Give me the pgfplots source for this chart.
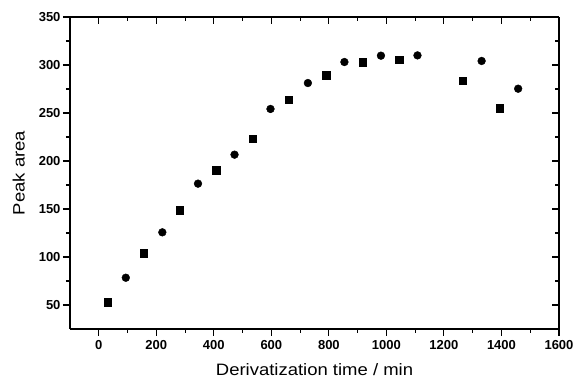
\documentclass[border=0pt]{standalone}
\usepackage{pgfplots}
\pgfplotsset{compat=1.18}
\usepackage{fontspec}
\setmainfont{Liberation Sans}
\newfontfamily\tickfont{Liberation Sans Bold}
\newfontfamily\labfont[FakeStretch=1.12]{Liberation Sans}
\begin{document}
\begin{tikzpicture}
\pgfplotsset{
  common/.style={
    scale only axis, width=489pt, height=312pt,
    xmin=-100, xmax=1600, ymin=25, ymax=350,
    xtick={0,200,...,1600}, ytick={50,100,...,350},
    minor x tick num=1, minor y tick num=1,
    major tick length=7pt, minor tick length=4pt,
    every tick/.style={black, line width=1.1pt},
    axis line style={line width=1.4pt},
  }
}
\begin{axis}[common,
  axis x line*=bottom, axis y line*=left,
  tick align=outside,
  ticklabel style={font=\tickfont\fontsize{13}{15}\selectfont},
  xticklabel style={yshift=-1pt},
  yticklabel style={xshift=1pt},
  /pgf/number format/assume math mode=true,
  /pgf/number format/1000 sep={},
  xlabel={Derivatization time / min},
  ylabel={Peak area},
  label style={font=\labfont\fontsize{16.5}{19}\selectfont},
  xlabel style={yshift=-7pt},
  ylabel style={yshift=7pt},
]
\addplot[only marks, mark=square*, mark size=3.7pt, black] coordinates {
 (31,53) (156,103.8) (281,148.6) (408,190.3) (535,223.3) (661,263.9)
 (790,289.3) (918,302.8) (1044,305.5) (1266,283.7) (1394,255.2)
};
\addplot[only marks, mark=*, mark size=3.9pt, black] coordinates {
 (94,78.4) (221,125.7) (345,176.4) (472,206.6) (597,254.2) (727,281.2)
 (854,303.1) (981,309.7) (1108,310) (1331,304.2) (1458,275.3)
};
\end{axis}
\begin{axis}[common,
  axis x line*=top, axis y line*=right,
  tick align=inside,
  xticklabels={}, yticklabels={},
]
\end{axis}
\pgfresetboundingbox
\path[use as bounding box] (-70pt,-50pt) rectangle (506pt,329pt);
\end{tikzpicture}
\end{document}
